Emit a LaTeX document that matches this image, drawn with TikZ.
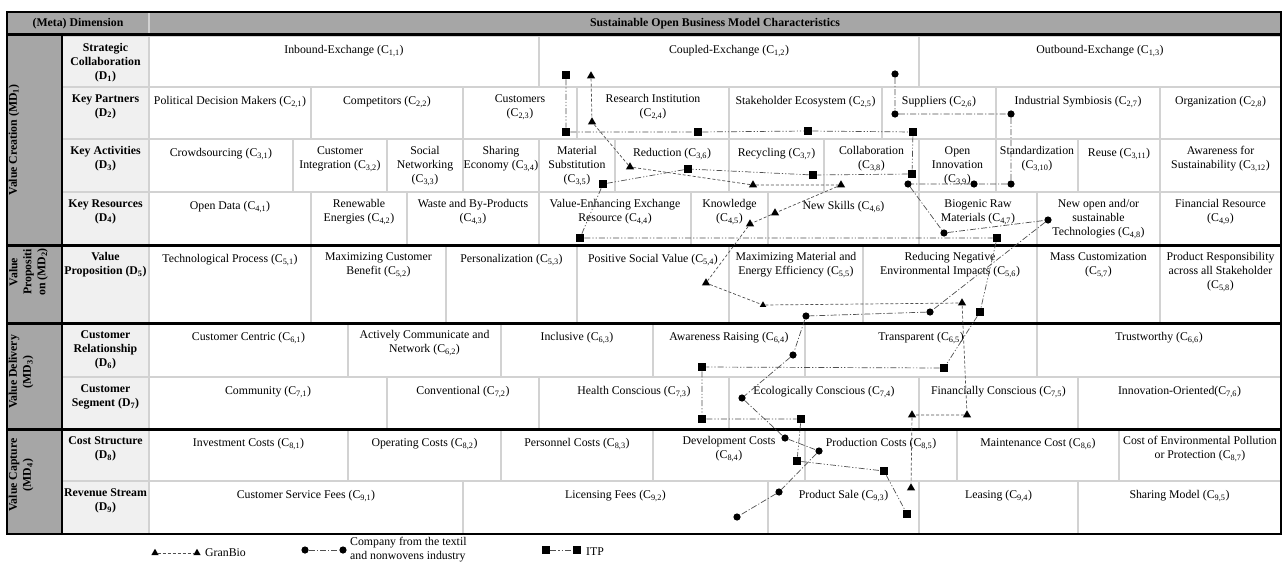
\documentclass[tikz,border=0pt]{standalone}
\usepackage{fontspec}
\setmainfont{Liberation Serif}
\usetikzlibrary{shapes.geometric}

\definecolor{hdrgray}{HTML}{A6A6A6}
\definecolor{dcol}{HTML}{F0F0F0}
\definecolor{gridgray}{HTML}{D2D2D2}
\definecolor{pathgray}{HTML}{505050}

\newcommand\Csub[1]{(C\textsubscript{#1})}
\newcommand\Dsub[1]{(D\textsubscript{#1})}
\newcommand\MDsub[1]{(MD\textsubscript{#1})}

% one table cell: name, left, right, top, bottom, text
\newcommand\cell[6]{%
  \draw[gridline] (#2,#4) rectangle (#3,#5);
  \node[celltext] (#1) at ({(#2+#3)/2},{#4+7.2}) {#6};
}
% one dimension cell in the second column: name, top, bottom, text
\newcommand\dcell[4]{%
  \draw[gridline] (62,#2) rectangle (149,#3);
  \node[celltext, font=\fontsize{11.8}{14}\selectfont\bfseries] (#1) at (105.5,{#2+7.2}) {#4};
}

\begin{document}
\begin{tikzpicture}[x=1pt,y=-1pt,
  gridline/.style={draw=gridgray, line width=1.4pt},
  celltext/.style={anchor=north, align=center, inner sep=0pt,
    font=\fontsize{11.8}{14}\selectfont, execute at begin node=\strut},
  hdrtext/.style={align=center, inner sep=0pt, font=\fontsize{11.8}{14}\selectfont\bfseries},
  mdlabel/.style={rotate=90, align=center, inner sep=0pt, font=\fontsize{11.8}{14}\selectfont\bfseries},
  legtext/.style={anchor=west, align=left, inner sep=0pt, font=\fontsize{11.8}{14}\selectfont},
  mtri/.style={regular polygon, regular polygon sides=3, fill=black, inner sep=0pt, minimum size=9.5pt},
  mdot/.style={circle, fill=black, inner sep=0pt, minimum size=7.2pt},
  msq/.style={rectangle, fill=black, inner sep=0pt, minimum size=8.3pt},
  gbline/.style={draw=pathgray, line width=0.7pt, dash pattern=on 3pt off 2pt},
  coline/.style={draw=pathgray, line width=0.7pt, dash pattern=on 6pt off 2pt on 1.2pt off 2pt},
  itline/.style={draw=pathgray, line width=0.7pt, dash pattern=on 6pt off 2pt on 1.2pt off 2pt on 1.2pt off 2pt},
]
\useasboundingbox (0,0) rectangle (1285,562);

% ---------- backgrounds ----------
\fill[hdrgray] (7,12) rectangle (1281,34);
\fill[hdrgray] (7,34) rectangle (62,534);
\fill[dcol] (62,36) rectangle (149,534);
\draw[gridgray, line width=1.2pt] (149,12) -- (149,33);

% ---------- dimension column ----------
\dcell{d1}{36}{87}{Strategic\\Collaboration\\\Dsub{1}}
\dcell{d2}{87}{139}{Key Partners\\\Dsub{2}}
\dcell{d3}{139}{192}{Key Activities\\\Dsub{3}}
\dcell{d4}{192}{245}{Key Resources\\\Dsub{4}}
\dcell{d5}{245}{323}{Value\\Proposition \Dsub{5}}
\dcell{d6}{323}{377}{Customer\\Relationship\\\Dsub{6}}
\dcell{d7}{377}{429}{Customer\\Segment \Dsub{7}}
\dcell{d8}{429}{481}{Cost Structure\\\Dsub{8}}
\dcell{d9}{481}{534}{Revenue Stream\\\Dsub{9}}

% ---------- characteristics ----------
\cell{c11}{149}{539}{36}{87}{Inbound-Exchange \Csub{1,1}}
\cell{c12}{539}{919}{36}{87}{Coupled-Exchange \Csub{1,2}}
\cell{c13}{919}{1281}{36}{87}{Outbound-Exchange \Csub{1,3}}

\cell{c21}{149}{311}{87}{139}{Political Decision Makers \Csub{2,1}}
\cell{c22}{311}{463}{87}{139}{Competitors \Csub{2,2}}
\cell{c23}{463}{577}{87}{139}{Customers\\\Csub{2,3}}
\cell{c24}{577}{729}{87}{139}{Research Institution\\\Csub{2,4}}
\cell{c25}{729}{882}{87}{139}{Stakeholder Ecosystem \Csub{2,5}}
\cell{c26}{882}{996}{87}{139}{Suppliers \Csub{2,6}}
\cell{c27}{996}{1160}{87}{139}{Industrial Symbiosis \Csub{2,7}}
\cell{c28}{1160}{1281}{87}{139}{Organization \Csub{2,8}}

\cell{c31}{149}{293}{139}{192}{Crowdsourcing \Csub{3,1}}
\cell{c32}{293}{387}{139}{192}{Customer\\Integration \Csub{3,2}}
\cell{c33}{387}{463}{139}{192}{Social\\Networking\\\Csub{3,3}}
\cell{c34}{463}{539}{139}{192}{Sharing\\Economy \Csub{3,4}}
\cell{c35}{539}{615}{139}{192}{Material\\Substitution\\\Csub{3,5}}
\cell{c36}{615}{729}{139}{192}{Reduction \Csub{3,6}}
\cell{c37}{729}{824}{139}{192}{Recycling \Csub{3,7}}
\cell{c38}{824}{919}{139}{192}{Collaboration\\\Csub{3,8}}
\cell{c39}{919}{996}{139}{192}{Open\\Innovation\\\Csub{3,9}}
\cell{c310}{996}{1078}{139}{192}{Standardization\\\Csub{3,10}}
\cell{c311}{1078}{1160}{139}{192}{Reuse \Csub{3,11}}
\cell{c312}{1160}{1281}{139}{192}{Awareness for\\Sustainability \Csub{3,12}}

\cell{c41}{149}{311}{192}{245}{Open Data \Csub{4,1}}
\cell{c42}{311}{407}{192}{245}{Renewable\\Energies \Csub{4,2}}
\cell{c43}{407}{539}{192}{245}{Waste and By-Products\\\Csub{4,3}}
\cell{c44}{539}{691}{192}{245}{Value-Enhancing Exchange\\Resource \Csub{4,4}}
\cell{c45}{691}{768}{192}{245}{Knowledge\\\Csub{4,5}}
\cell{c46}{768}{919}{192}{245}{New Skills \Csub{4,6}}
\cell{c47}{919}{1037}{192}{245}{Biogenic Raw\\Materials \Csub{4,7}}
\cell{c48}{1037}{1160}{192}{245}{New open and/or\\sustainable\\Technologies \Csub{4,8}}
\cell{c49}{1160}{1281}{192}{245}{Financial Resource\\\Csub{4,9}}

\cell{c51}{149}{311}{245}{323}{Technological Process \Csub{5,1}}
\cell{c52}{311}{446}{245}{323}{Maximizing Customer\\Benefit \Csub{5,2}}
\cell{c53}{446}{577}{245}{323}{Personalization \Csub{5,3}}
\cell{c54}{577}{729}{245}{323}{Positive Social Value \Csub{5,4}}
\cell{c55}{729}{863}{245}{323}{Maximizing Material and\\Energy Efficiency \Csub{5,5}}
\cell{c56}{863}{1037}{245}{323}{Reducing Negative\\Environmental Impacts \Csub{5,6}}
\cell{c57}{1037}{1160}{245}{323}{Mass Customization\\\Csub{5,7}}
\cell{c58}{1160}{1281}{245}{323}{Product Responsibility\\across all Stakeholder\\\Csub{5,8}}

\cell{c61}{149}{348}{323}{377}{Customer Centric \Csub{6,1}}
\cell{c62}{348}{501}{323}{377}{Actively Communicate and\\Network \Csub{6,2}}
\cell{c63}{501}{653}{323}{377}{Inclusive \Csub{6,3}}
\cell{c64}{653}{805}{323}{377}{Awareness Raising \Csub{6,4}}
\cell{c65}{805}{1037}{323}{377}{Transparent \Csub{6,5}}
\cell{c66}{1037}{1281}{323}{377}{Trustworthy \Csub{6,6}}

\cell{c71}{149}{387}{377}{429}{Community \Csub{7,1}}
\cell{c72}{387}{539}{377}{429}{Conventional \Csub{7,2}}
\cell{c73}{539}{729}{377}{429}{Health Conscious \Csub{7,3}}
\cell{c74}{729}{919}{377}{429}{Ecologically Conscious \Csub{7,4}}
\cell{c75}{919}{1078}{377}{429}{Financially Conscious \Csub{7,5}}
\cell{c76}{1078}{1281}{377}{429}{Innovation-Oriented\Csub{7,6}}

\cell{c81}{149}{348}{429}{481}{Investment Costs \Csub{8,1}}
\cell{c82}{348}{501}{429}{481}{Operating Costs \Csub{8,2}}
\cell{c83}{501}{653}{429}{481}{Personnel Costs \Csub{8,3}}
\cell{c84}{653}{805}{429}{481}{Development Costs\\\Csub{8,4}}
\cell{c85}{805}{957}{429}{481}{Production Costs \Csub{8,5}}
\cell{c86}{957}{1119}{429}{481}{Maintenance Cost \Csub{8,6}}
\cell{c87}{1119}{1281}{429}{481}{Cost of Environmental Pollution\\or Protection \Csub{8,7}}

\cell{c91}{149}{463}{481}{534}{Customer Service Fees \Csub{9,1}}
\cell{c92}{463}{768}{481}{534}{Licensing Fees \Csub{9,2}}
\cell{c93}{768}{919}{481}{534}{Product Sale \Csub{9,3}}
\cell{c94}{919}{1078}{481}{534}{Leasing \Csub{9,4}}
\cell{c95}{1078}{1281}{481}{534}{Sharing Model \Csub{9,5}}

% ---------- heavy rules and frame ----------
\draw[line width=3pt] (7,34) -- (1281,34);
\draw[line width=3pt] (7,245) -- (1281,245);
\draw[line width=3pt] (7,323.3) -- (1281,323.3);
\draw[line width=3pt] (7,429) -- (1281,429);
\draw[line width=2pt] (62,35) -- (62,534);
\draw[line width=1.5pt] (7,12) rectangle (1281,534);

% ---------- header and meta dimensions ----------
\node[hdrtext] (hmeta) at (78,23.5) {(Meta) Dimension};
\node[hdrtext] (hchar) at (715,23.5) {Sustainable Open Business Model Characteristics};
\node[mdlabel] (md1) at (14,140) {Value Creation \MDsub{1}};
\node[mdlabel] (md2) at (28.5,272) {Value\\Propositi\\on \MDsub{2}};
\node[mdlabel] (md3) at (21,372) {Value Delivery\\\MDsub{3}};
\node[mdlabel] (md4) at (21,475) {Value Capture\\\MDsub{4}};

% ---------- GranBio ----------
\node[mtri] (gb1) at (591,76) {};
\node[mtri] (gb2) at (592,122) {};
\node[mtri] (gb3) at (630,167) {};
\node[mtri] (gb4) at (753,185) {};
\node[mtri] (gb5) at (841,185) {};
\node[mtri] (gb6) at (775,213) {};
\node[mtri] (gb7) at (750,224) {};
\node[mtri] (gb8) at (706,283) {};
\node[mtri, minimum size=7.5pt] (gb9) at (763,305) {};
\node[mtri] (gb10) at (962,303) {};
\node[mtri] (gb11) at (967,415) {};
\node[mtri] (gb12) at (912,415) {};
\node[mtri] (gb13) at (911,488) {};
\draw[gbline] (gb1) -- (gb2) -- (gb3) -- (gb4) -- (gb5) -- (gb6) -- (gb7) -- (gb8)
  -- (gb9) -- (gb10) -- (gb11) -- (gb12) -- (gb13);

% ---------- company from the textile and nonwovens industry ----------
\node[mdot] (co1) at (895,74) {};
\node[mdot] (co2) at (895,114) {};
\node[mdot] (co3) at (1011,114) {};
\node[mdot] (co4) at (1011,184) {};
\node[mdot] (co5) at (974,184) {};
\node[mdot] (co6) at (908,184) {};
\node[mdot] (co7) at (944,233) {};
\node[mdot] (co8) at (1048,220) {};
\node[mdot] (co9) at (930,312) {};
\node[mdot] (co10) at (806,316) {};
\node[mdot] (co11) at (793,355) {};
\node[mdot] (co12) at (742,398) {};
\node[mdot] (co13) at (785,438) {};
\node[mdot] (co14) at (819,451) {};
\node[mdot] (co15) at (779,492) {};
\node[mdot] (co16) at (737,517) {};
\draw[coline] (co1) -- (co2) -- (co3) -- (co4) -- (co5) -- (co6) -- (co7) -- (co8)
  -- (co9) -- (co10) -- (co11) -- (co12) -- (co13) -- (co14) -- (co15) -- (co16);

% ---------- ITP ----------
\node[msq] (it1) at (566,75) {};
\node[msq] (it2) at (566,132) {};
\node[msq] (it3) at (698,132) {};
\node[msq] (it4) at (808,131) {};
\node[msq] (it5) at (913,132) {};
\node[msq] (it6) at (912,174) {};
\node[msq] (it7) at (813,175) {};
\node[msq] (it8) at (688,169) {};
\node[msq] (it9) at (603,184) {};
\node[msq] (it10) at (580,238) {};
\node[msq] (it11) at (997,238) {};
\node[msq] (it12) at (980,312) {};
\node[msq] (it13) at (944,368) {};
\node[msq] (it14) at (702,367) {};
\node[msq] (it15) at (702,419) {};
\node[msq] (it16) at (801,419) {};
\node[msq] (it17) at (797,461) {};
\node[msq] (it18) at (884,471) {};
\node[msq] (it19) at (907,514) {};
\draw[itline] (it1) -- (it2) -- (it3) -- (it4) -- (it5) -- (it6) -- (it7) -- (it8)
  -- (it9) -- (it10) -- (it11) -- (it12) -- (it13) -- (it14) -- (it15) -- (it16)
  -- (it17) -- (it18) -- (it19);

% ---------- legend ----------
\node[mtri, minimum size=8.5pt] (lgb1) at (155,553) {};
\node[mtri, minimum size=8.5pt] (lgb2) at (197,553) {};
\draw[gbline] (lgb1) -- (lgb2);
\node[legtext] (lgbt) at (205,553) {GranBio};

\node[mdot] (lco1) at (305,550) {};
\node[mdot] (lco2) at (343,550) {};
\draw[coline] (lco1) -- (lco2);
\node[legtext] (lcot) at (350,550) {Company from the textil\\and nonwovens industry};

\node[msq] (lit1) at (546,550) {};
\node[msq] (lit2) at (577,550) {};
\draw[itline] (lit1) -- (lit2);
\node[legtext] (litt) at (586,552) {ITP};
\end{tikzpicture}
\end{document}
